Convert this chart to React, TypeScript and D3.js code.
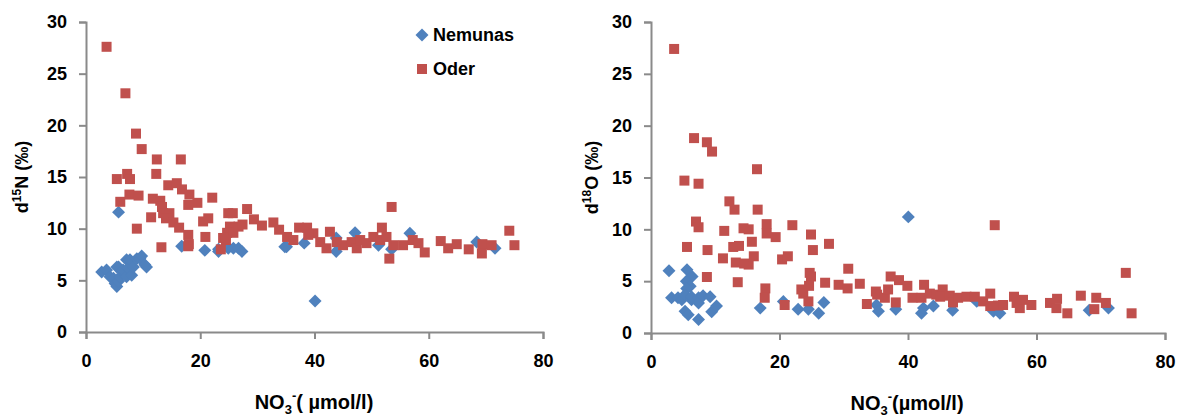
import React, { useEffect, useRef } from "react";
import * as d3 from "d3";

// [NO3 µmol/l, d15N ‰]
const nemunasN15: [number, number][] = [
  [2.75, 5.8], [3.6, 6.0], [4.2, 5.35], [4.8, 5.2], [5.1, 4.7], [5.4, 4.4], [5.7, 4.9], [5.7, 6.3],
  [5.4, 6.3], [5.95, 5.35], [6.5, 5.8], [6.5, 6.0], [7.1, 5.35], [7.1, 7.0], [7.4, 6.2], [7.7, 7.0],
  [8.0, 5.5], [8.3, 6.3], [8.9, 7.1], [9.45, 7.1], [9.75, 7.35], [10.3, 6.5], [10.6, 6.3], [5.7, 11.6],
  [16.75, 8.3], [20.8, 7.9], [23.2, 8.0], [23.2, 7.8], [24.9, 8.1], [25.8, 8.1], [26.7, 8.1], [27.3, 7.8],
  [34.8, 8.25], [35.1, 8.25], [38.2, 8.6], [40.1, 3.0], [43.8, 9.1], [43.8, 7.8], [47.1, 9.6], [51.2, 8.4],
  [53.5, 8.0], [56.7, 9.55], [68.4, 8.7], [71.6, 8.1],
];

const oderN15: [number, number][] = [
  [3.6, 27.6], [6.9, 23.1], [8.75, 19.2], [9.75, 17.7], [12.4, 16.7], [16.6, 16.7], [5.4, 14.8], [7.2, 15.3],
  [7.7, 14.8], [12.3, 15.3], [14.4, 14.2], [15.9, 14.4], [16.8, 13.8], [7.6, 13.3], [9.2, 13.2], [11.7, 12.9],
  [13.0, 12.7], [18.1, 13.3], [19.5, 12.5], [22.1, 13.0], [17.9, 12.3], [6.0, 12.6], [13.3, 12.1], [13.5, 11.5],
  [14.6, 11.5], [11.4, 11.1], [14.0, 11.0], [15.3, 10.6], [16.3, 10.1], [8.9, 10.0], [17.9, 9.4], [18.0, 8.5],
  [17.9, 8.3], [13.2, 8.2], [20.5, 10.7], [21.4, 11.0], [20.9, 9.2], [24.9, 11.5], [25.7, 11.5], [25.2, 10.2],
  [24.7, 9.6], [25.8, 9.6], [24.0, 9.1], [24.5, 8.9], [23.6, 8.0], [26.7, 10.2], [27.4, 10.4], [28.2, 11.9],
  [29.4, 10.9], [30.8, 10.3], [32.8, 10.6], [33.8, 9.9], [35.2, 9.2], [36.3, 8.9], [37.3, 10.1], [38.7, 10.1],
  [39.8, 9.55], [38.9, 9.4], [41.0, 8.7], [42.7, 9.7], [42.1, 8.1], [43.9, 8.7], [45.0, 8.4], [46.5, 8.7],
  [47.4, 8.1], [48.0, 8.9], [49.1, 8.6], [50.3, 9.2], [51.8, 10.1], [51.5, 8.9], [52.6, 9.2], [53.5, 12.1],
  [53.1, 7.1], [53.8, 8.4], [55.5, 8.4], [57.2, 8.9], [58.2, 8.6], [59.3, 7.7], [62.1, 8.8], [63.4, 8.1],
  [64.9, 8.5], [67.0, 8.0], [69.4, 8.5], [69.3, 7.6], [71.0, 8.4], [74.1, 9.8], [75.0, 8.4],
];

// [NO3 µmol/l, d18O ‰]
const nemunasO18: [number, number][] = [
  [2.8, 6.0], [5.6, 6.1], [6.4, 5.45], [5.5, 5.0], [6.1, 4.5], [5.55, 4.3], [3.2, 3.4], [4.2, 3.4],
  [4.8, 3.2], [5.3, 3.7], [6.3, 3.2], [6.3, 3.5], [7.4, 3.4], [7.4, 2.9], [8.1, 3.6], [9.2, 3.5],
  [5.3, 2.1], [5.8, 1.75], [7.4, 1.3], [9.45, 2.05], [10.2, 2.6], [17.0, 2.4], [20.6, 3.05], [22.9, 2.3],
  [24.5, 2.3], [26.1, 1.9], [26.9, 2.95], [35.1, 2.7], [35.4, 2.1], [38.1, 2.3], [40.05, 11.2], [42.1, 1.9],
  [42.4, 2.4], [43.95, 2.6], [46.95, 2.2], [50.7, 3.05], [53.3, 2.1], [54.3, 1.9], [68.2, 2.2], [71.2, 2.4],
];

const oderO18: [number, number][] = [
  [3.6, 27.4], [6.7, 18.8], [8.7, 18.4], [9.5, 17.5], [16.5, 15.8], [5.2, 14.7], [7.4, 14.4], [12.2, 12.7],
  [13.0, 11.9], [16.6, 11.9], [7.0, 10.75], [7.4, 10.2], [11.4, 9.85], [14.4, 10.1], [15.2, 10.0], [18.0, 10.5],
  [18.0, 9.6], [19.4, 9.25], [22.0, 10.4], [24.9, 9.5], [15.7, 8.8], [5.6, 8.3], [8.8, 8.0], [12.8, 8.3],
  [13.7, 8.4], [25.2, 8.0], [27.7, 8.6], [11.2, 7.2], [13.2, 6.8], [14.5, 6.7], [15.2, 6.6], [16.0, 7.4],
  [20.4, 7.1], [21.3, 7.4], [8.7, 5.4], [13.5, 4.9], [17.8, 4.3], [17.7, 3.4], [20.8, 2.7], [24.7, 5.8],
  [24.9, 5.45], [23.4, 4.2], [23.7, 3.8], [24.6, 4.55], [24.5, 3.05], [27.1, 4.85], [29.2, 4.65], [30.7, 6.2],
  [30.6, 4.3], [32.5, 4.75], [33.6, 2.8], [35.0, 4.0], [35.2, 3.7], [36.4, 3.4], [36.9, 4.2], [37.3, 5.45],
  [38.1, 2.95], [38.6, 5.1], [39.9, 4.55], [40.7, 3.4], [42.1, 3.4], [42.5, 4.65], [43.4, 3.8], [44.4, 3.7],
  [45.4, 4.2], [45.0, 3.5], [46.5, 3.6], [47.0, 2.95], [47.8, 3.4], [49.1, 3.5], [50.4, 3.5], [51.7, 3.05],
  [52.8, 3.8], [52.8, 2.6], [53.5, 10.4], [54.0, 2.65], [54.8, 2.7], [56.5, 3.5], [56.9, 2.9], [57.4, 2.4],
  [57.9, 3.2], [59.2, 2.7], [62.1, 2.9], [63.2, 3.3], [63.1, 2.4], [64.8, 1.9], [66.9, 3.6], [69.0, 2.3],
  [69.3, 3.4], [70.8, 2.9], [73.9, 5.8], [74.8, 1.9],
];

const seriesNames = ["Nemunas", "Oder"];
const xTicks = [0, 20, 40, 60, 80];
const yTicks = [0, 5, 10, 15, 20, 25, 30];

const BLUE = "#4F81BD";
const RED = "#C0504D";
const AXIS = "#8a8a8a";
const FONT = "'Liberation Sans', Arial, sans-serif";

const square = d3.symbol(d3.symbolSquare, 100)();
const diamond = d3.symbol(d3.symbolSquare, 84)();

function drawPanel(svg, opts) {
  const { left, right, top, bottom, nem, oder, yIso, xTitleX, xTitleY, yTitleX, xTitleGap, legend } = opts;
  const x = d3.scaleLinear().domain([0, 80]).range([left, right]);
  const y = d3.scaleLinear().domain([0, 30]).range([bottom, top]);

  const g = svg.append("g");

  // axes
  const yAxis = g.append("g")
    .attr("transform", `translate(${left},0)`)
    .call(d3.axisLeft(y).tickValues(yTicks).tickSize(7).tickPadding(12));
  const xAxis = g.append("g")
    .attr("transform", `translate(0,${bottom})`)
    .call(d3.axisBottom(x).tickValues(xTicks).tickSize(7).tickPadding(15));
  [yAxis, xAxis].forEach((a) => {
    a.selectAll("path, line").attr("stroke", AXIS).attr("stroke-width", 2);
    a.selectAll("text")
      .attr("fill", "#000")
      .style("font-family", FONT)
      .style("font-weight", "bold")
      .style("font-size", "18px");
  });

  // points
  g.append("g").selectAll("path")
    .data(nem)
    .join("path")
    .attr("d", diamond)
    .attr("transform", (d) => `translate(${x(d[0])},${y(d[1])}) rotate(45)`)
    .attr("fill", BLUE);

  g.append("g").selectAll("path")
    .data(oder)
    .join("path")
    .attr("d", square)
    .attr("transform", (d) => `translate(${x(d[0])},${y(d[1])})`)
    .attr("fill", RED);

  // y title
  const yt = g.append("text")
    .attr("transform", `translate(${yTitleX},${(top + bottom) / 2}) rotate(-90)`)
    .attr("text-anchor", "middle")
    .attr("dy", "0.35em")
    .style("font-family", FONT)
    .style("font-weight", "bold")
    .style("font-size", "18px");
  yt.append("tspan").text("d");
  yt.append("tspan").attr("dy", -7).style("font-size", "12px").text(yIso[0]);
  yt.append("tspan").attr("dy", 7).text(yIso[1] + " (‰)");

  // x title
  const xt = g.append("text")
    .attr("x", xTitleX)
    .attr("y", xTitleY)
    .attr("text-anchor", "middle")
    .style("font-family", FONT)
    .style("font-weight", "bold")
    .style("font-size", "20px");
  xt.append("tspan").text("NO");
  xt.append("tspan").attr("dy", 5).style("font-size", "13px").text("3");
  xt.append("tspan").attr("dy", -14).style("font-size", "13px").text("-");
  xt.append("tspan").attr("dy", 9).text(xTitleGap + "µmol/l)");

  if (legend) {
    const lg = g.append("g").attr("transform", `translate(${legend[0]},${legend[1]})`);
    seriesNames.forEach((name, i) => {
      const row = lg.append("g").attr("transform", `translate(0,${i * 34})`);
      row.append("path")
        .attr("d", i === 0 ? diamond : square)
        .attr("transform", i === 0 ? "rotate(45)" : null)
        .attr("fill", i === 0 ? BLUE : RED);
      row.append("text")
        .attr("x", 11)
        .attr("dy", "0.35em")
        .style("font-family", FONT)
        .style("font-weight", "bold")
        .style("font-size", "18px")
        .text(name);
    });
  }
}

const App = () => {
  const ref = useRef(null);

  useEffect(() => {
    const svg = d3.select(ref.current);
    svg.selectAll("*").remove();

    drawPanel(svg, {
      left: 86, right: 543, top: 22, bottom: 332,
      nem: nemunasN15, oder: oderN15, yIso: ["15", "N"],
      xTitleX: 314, xTitleY: 409, xTitleGap: "( ", yTitleX: 22,
      legend: [422, 35],
    });
    drawPanel(svg, {
      left: 651, right: 1165, top: 22, bottom: 333,
      nem: nemunasO18, oder: oderO18, yIso: ["18", "O"],
      xTitleX: 907, xTitleY: 410, xTitleGap: "(", yTitleX: 592,
      legend: null,
    });
  }, []);

  return (
    <svg
      ref={ref}
      width={1183}
      height={419}
      style={{ position: "absolute", left: 0, top: 0, background: "#fff" }}
    />
  );
};

export default App;
